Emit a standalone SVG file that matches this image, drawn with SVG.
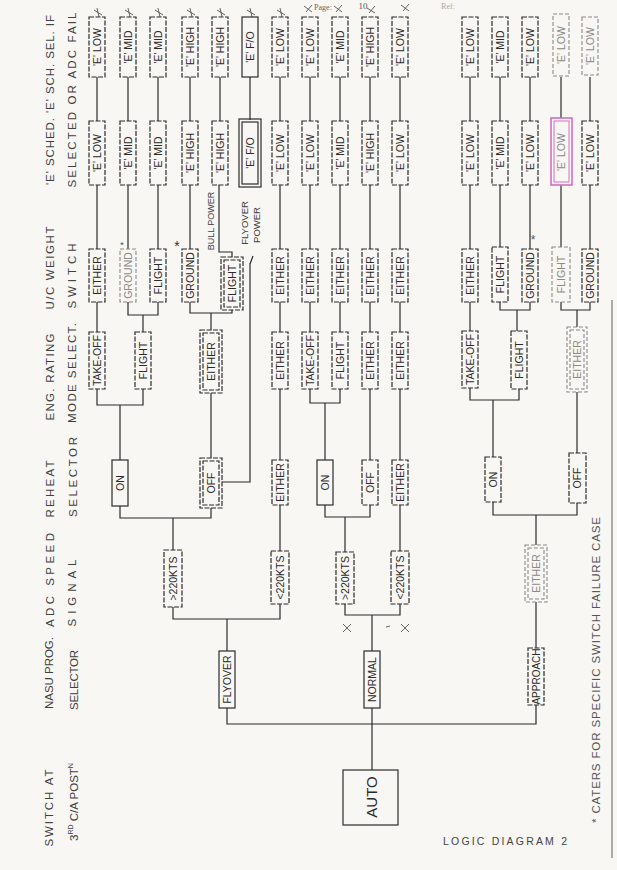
<svg xmlns="http://www.w3.org/2000/svg" width="617" height="870" viewBox="0 0 617 870">
<style>
.bg{fill:#f8f7f3}
.bx{fill:none;stroke:#2b2b2b;stroke-width:1.2;stroke-dasharray:5 1.5}
.sol{fill:none;stroke:#2b2b2b;stroke-width:1.2}
.fb{fill:none;stroke:#8a8a8a;stroke-width:1.1;stroke-dasharray:4 2}
.pk{fill:none;stroke:#d070c0;stroke-width:1.6}
.lb{font-family:"Liberation Sans",Arial,sans-serif;font-size:10.5px;fill:#2b2b2b;text-anchor:middle;dominant-baseline:central}
.lf{font-family:"Liberation Sans",Arial,sans-serif;font-size:10.5px;fill:#8a8a8a;text-anchor:middle;dominant-baseline:central}
.hd{font-family:"Liberation Sans",Arial,sans-serif;font-size:11.5px;fill:#404040;text-anchor:middle;dominant-baseline:central}
.cn{fill:none;stroke:#2b2b2b;stroke-width:1.2}
.xm{fill:none;stroke:#555;stroke-width:0.9}
</style>
<rect class="bg" x="0" y="0" width="617" height="870"/>

<!-- headers -->
<g id="headers">
<text class="hd" transform="translate(50,100) rotate(-90)" textLength="170" lengthAdjust="spacing">'E' SCHED. 'E' SCH. SEL. IF</text>
<text class="hd" transform="translate(72,100) rotate(-90)" textLength="175" lengthAdjust="spacing">SELECTED  OR  ADC  FAIL</text>
<text class="hd" transform="translate(50,268) rotate(-90)" textLength="83" lengthAdjust="spacing">U/C  WEIGHT</text>
<text class="hd" transform="translate(72,276) rotate(-90)" textLength="65" lengthAdjust="spacing">SWITCH</text>
<text class="hd" transform="translate(50,377) rotate(-90)" textLength="87" lengthAdjust="spacing">ENG.  RATING</text>
<text class="hd" transform="translate(72,373) rotate(-90)" textLength="100" lengthAdjust="spacing">MODE  SELECT.</text>
<text class="hd" transform="translate(50,489) rotate(-90)" textLength="57" lengthAdjust="spacing">REHEAT</text>
<text class="hd" transform="translate(73,477) rotate(-90)" textLength="80" lengthAdjust="spacing">SELECTOR</text>
<text class="hd" transform="translate(50,580) rotate(-90)" textLength="94" lengthAdjust="spacing">ADC  SPEED</text>
<text class="hd" transform="translate(72,593) rotate(-90)" textLength="67" lengthAdjust="spacing">SIGNAL</text>
<text class="hd" transform="translate(49,673) rotate(-90)" textLength="72" lengthAdjust="spacing">NASU  PROG.</text>
<text class="hd" transform="translate(74,680) rotate(-90)" textLength="60" lengthAdjust="spacing">SELECTOR</text>
<text class="hd" transform="translate(49,808) rotate(-90)" textLength="77" lengthAdjust="spacing">SWITCH  AT</text>
<text class="hd" transform="translate(74,802) rotate(-90)">3<tspan style="font-size:7px" baseline-shift="super">RD</tspan> C/A POST<tspan style="font-size:7px" baseline-shift="super">N</tspan></text>
<text class="hd" transform="translate(596,670) rotate(-90)" textLength="306" lengthAdjust="spacing" style="fill:#555">* CATERS  FOR  SPECIFIC  SWITCH  FAILURE  CASE</text>
<text class="hd" x="505" y="841" textLength="124" lengthAdjust="spacing" style="font-size:10.5px;fill:#444">LOGIC  DIAGRAM  2</text>
<text x="323" y="7" font-family="Liberation Serif,serif" font-size="8" fill="#666" text-anchor="middle" dominant-baseline="central">Page:</text>
<text x="363" y="6" font-family="Liberation Serif,serif" font-size="9" fill="#555" text-anchor="middle" dominant-baseline="central">10</text>
<text x="448" y="6" font-family="Liberation Serif,serif" font-size="8" fill="#aaa" text-anchor="middle" dominant-baseline="central">Ref:</text>
</g>

<!-- connectors -->
<g id="connectors">
<path class="cn" d="M97 77V121M97 185V249M97 302V332M97 389V405H143V389M120 405V460M120 506V518H211V508M173 518V550"/>
<path class="cn" d="M128 77V121M128 185V249M128 302V315H158V302M143 315V332"/>
<path class="cn" d="M158 77V121M158 185V249"/>
<path class="cn" d="M190 77V121M190 185V249M190 302V313H232V310M211 313V330M211 393V458"/>
<path class="cn" d="M220 77V121M219 185V252H232V257"/>
<path class="cn" d="M250 77V120M250 263V482H222M253 256L250 264"/>
<path class="cn" d="M280 77V121M280 185V249M280 302V332M280 389V460M280 505V551M280 604V619H173V607M227 619V651M227 708V724H536V705"/>
<path class="cn" d="M310 77V121M310 185V249M310 302V332M310 389V403H340V389M325 403V460"/>
<path class="cn" d="M340 77V121M340 185V249M340 302V332"/>
<path class="cn" d="M370 77V121M370 185V249M370 302V332M370 389V460M370 505V517H325V505M345 517V552M345 604V615H400V604M372 615V651M372 708V770"/>
<path class="cn" d="M400 77V121M400 185V249M400 302V332M400 389V460M400 505V551"/>
<path class="cn" d="M470 77V121M470 185V249M470 302V331M470 388V400H519V389M493 400V457M493 502V515H577V503M536 515V545M536 602V648"/>
<path class="cn" d="M500 77V121M500 185V247M500 302V310H530V302M517 310V331"/>
<path class="cn" d="M530 77V121M530 185V249"/>
<path class="cn" d="M561 77V118M561 185V247M561 302V310H590V302M577 310V327M577 392V453"/>
<path class="cn" d="M590 77V121M590 185V249"/>
<path d="M612 300V858" stroke="#777" stroke-width="1.2" fill="none"/>
</g>

<!-- marks -->
<g id="marks">
<path class="xm" d="M94 10L102 15M97 8L99 17M125 10L133 15M128 8L130 17M155 10L163 15M158 8L160 17M187 10L195 15M190 8L192 17M217 10L225 15M220 8L222 17M247 10L255 15M250 8L252 17M277 10L285 15M280 8L282 17M304 6L312 12M306 12L312 5M334 6L342 12M336 12L342 5M367 8L375 13M369 13L375 6M401 5L409 11M403 11L409 4M343 624L351 632M343 632L351 624M401 624L409 632M401 632L409 624M386 627L390 626"/>
<text x="122" y="245" font-family="Liberation Sans,sans-serif" font-size="9" fill="#444" text-anchor="middle" dominant-baseline="central">*</text>
<text x="177" y="246" font-family="Liberation Sans,sans-serif" font-size="14" fill="#333" text-anchor="middle" dominant-baseline="central">*</text>
<text x="533" y="240" font-family="Liberation Sans,sans-serif" font-size="12" fill="#555" text-anchor="middle" dominant-baseline="central">*</text>
<text class="hd" transform="translate(211,221) rotate(-90)" style="font-size:9px">BULL POWER</text>
<text class="hd" transform="translate(244,223) rotate(-90)" style="font-size:9.5px">FLYOVER</text>
<text class="hd" transform="translate(256,225) rotate(-90)" style="font-size:9.5px">POWER</text>
</g>

<!-- column A -->
<g id="a1"><rect class="bx" x="89" y="17" width="16" height="60"/><text class="lb" transform="translate(97,47) rotate(-90)">'E' LOW</text></g>
<g id="a2"><rect class="bx" x="120" y="17" width="16" height="60"/><text class="lb" transform="translate(128,47) rotate(-90)">'E' MID</text></g>
<g id="a3"><rect class="bx" x="150" y="17" width="16" height="60"/><text class="lb" transform="translate(158,47) rotate(-90)">'E' MID</text></g>
<g id="a4"><rect class="bx" x="182" y="17" width="16" height="60"/><text class="lb" transform="translate(190,47) rotate(-90)">'E' HIGH</text></g>
<g id="a5"><rect class="bx" x="212" y="17" width="16" height="60"/><text class="lb" transform="translate(220,47) rotate(-90)">'E' HIGH</text></g>
<g id="a6"><rect class="sol" x="242" y="17" width="16" height="60"/><text class="lb" transform="translate(250,47) rotate(-90)">'E' F/O</text></g>
<g id="a7"><rect class="bx" x="272" y="17" width="16" height="60"/><text class="lb" transform="translate(280,47) rotate(-90)">'E' LOW</text></g>
<g id="a8"><rect class="bx" x="302" y="17" width="16" height="60"/><text class="lb" transform="translate(310,47) rotate(-90)">'E' LOW</text></g>
<g id="a9"><rect class="bx" x="332" y="17" width="16" height="60"/><text class="lb" transform="translate(340,47) rotate(-90)">'E' MID</text></g>
<g id="a10"><rect class="bx" x="362" y="17" width="16" height="60"/><text class="lb" transform="translate(370,47) rotate(-90)">'E' HIGH</text></g>
<g id="a11"><rect class="bx" x="392" y="17" width="16" height="60"/><text class="lb" transform="translate(400,47) rotate(-90)">'E' LOW</text></g>
<g id="a12"><rect class="bx" x="462" y="17" width="16" height="60"/><text class="lb" transform="translate(470,47) rotate(-90)">'E' LOW</text></g>
<g id="a13"><rect class="bx" x="492" y="17" width="16" height="60"/><text class="lb" transform="translate(500,47) rotate(-90)">'E' MID</text></g>
<g id="a14"><rect class="bx" x="522" y="17" width="16" height="60"/><text class="lb" transform="translate(530,47) rotate(-90)">'E' LOW</text></g>
<g id="a15"><rect class="fb" x="553" y="14" width="16" height="62"/><text class="lf" transform="translate(561,45) rotate(-90)">'E' LOW</text></g>
<g id="a16"><rect class="fb" x="582" y="17" width="16" height="58"/><text class="lf" transform="translate(590,46) rotate(-90)">'E' LOW</text></g>

<!-- column B -->
<g id="b1"><rect class="bx" x="89" y="121" width="16" height="64"/><text class="lb" transform="translate(97,153) rotate(-90)">'E' LOW</text></g>
<g id="b2"><rect class="bx" x="120" y="121" width="16" height="64"/><text class="lb" transform="translate(128,153) rotate(-90)">'E' MID</text></g>
<g id="b3"><rect class="bx" x="150" y="121" width="16" height="64"/><text class="lb" transform="translate(158,153) rotate(-90)">'E' MID</text></g>
<g id="b4"><rect class="bx" x="182" y="121" width="16" height="64"/><text class="lb" transform="translate(190,153) rotate(-90)">'E' HIGH</text></g>
<g id="b5"><rect class="bx" x="212" y="121" width="16" height="64"/><text class="lb" transform="translate(220,153) rotate(-90)">'E' HIGH</text></g>
<g id="b6"><rect class="sol" x="239" y="119" width="22" height="68"/><rect class="sol" x="242" y="122" width="16" height="62"/><text class="lb" transform="translate(250,153) rotate(-90)">'E' F/O</text></g>
<g id="b7"><rect class="bx" x="272" y="121" width="16" height="64"/><text class="lb" transform="translate(280,153) rotate(-90)">'E' LOW</text></g>
<g id="b8"><rect class="bx" x="302" y="121" width="16" height="64"/><text class="lb" transform="translate(310,153) rotate(-90)">'E' LOW</text></g>
<g id="b9"><rect class="bx" x="332" y="121" width="16" height="64"/><text class="lb" transform="translate(340,153) rotate(-90)">'E' MID</text></g>
<g id="b10"><rect class="bx" x="362" y="121" width="16" height="64"/><text class="lb" transform="translate(370,153) rotate(-90)">'E' HIGH</text></g>
<g id="b11"><rect class="bx" x="392" y="121" width="16" height="64"/><text class="lb" transform="translate(400,153) rotate(-90)">'E' LOW</text></g>
<g id="b12"><rect class="bx" x="462" y="121" width="16" height="64"/><text class="lb" transform="translate(470,153) rotate(-90)">'E' LOW</text></g>
<g id="b13"><rect class="bx" x="492" y="121" width="16" height="64"/><text class="lb" transform="translate(500,153) rotate(-90)">'E' MID</text></g>
<g id="b14"><rect class="bx" x="522" y="121" width="16" height="64"/><text class="lb" transform="translate(530,153) rotate(-90)">'E' LOW</text></g>
<g id="b15"><rect class="pk" x="551" y="118" width="21" height="67"/><rect class="pk" x="554" y="121" width="15" height="61" style="stroke-width:1"/><text class="lf" transform="translate(561,152) rotate(-90)">'E' LOW</text></g>
<g id="b16"><rect class="bx" x="582" y="121" width="16" height="64"/><text class="lb" transform="translate(590,153) rotate(-90)">'E' LOW</text></g>

<!-- column C -->
<g id="c1"><rect class="bx" x="89" y="249" width="16" height="53"/><text class="lb" transform="translate(97,275.5) rotate(-90)">EITHER</text></g>
<g id="c2"><rect class="fb" x="120" y="249" width="16" height="53"/><text class="lf" transform="translate(128,275.5) rotate(-90)">GROUND</text></g>
<g id="c3"><rect class="bx" x="150" y="249" width="16" height="53"/><text class="lb" transform="translate(158,275.5) rotate(-90)">FLIGHT</text></g>
<g id="c4"><rect class="bx" x="182" y="249" width="16" height="53"/><text class="lb" transform="translate(190,275.5) rotate(-90)">GROUND</text></g>
<g id="c5"><rect class="bx" x="221" y="257" width="22" height="53"/><rect class="bx" x="224" y="260" width="16" height="47"/><text class="lb" transform="translate(232,283.5) rotate(-90)">FLIGHT</text></g>
<g id="c7"><rect class="bx" x="272" y="249" width="16" height="53"/><text class="lb" transform="translate(280,275.5) rotate(-90)">EITHER</text></g>
<g id="c8"><rect class="bx" x="302" y="249" width="16" height="53"/><text class="lb" transform="translate(310,275.5) rotate(-90)">EITHER</text></g>
<g id="c9"><rect class="bx" x="332" y="249" width="16" height="53"/><text class="lb" transform="translate(340,275.5) rotate(-90)">EITHER</text></g>
<g id="c10"><rect class="bx" x="362" y="249" width="16" height="53"/><text class="lb" transform="translate(370,275.5) rotate(-90)">EITHER</text></g>
<g id="c11"><rect class="bx" x="392" y="249" width="16" height="53"/><text class="lb" transform="translate(400,275.5) rotate(-90)">EITHER</text></g>
<g id="c12"><rect class="bx" x="462" y="249" width="16" height="53"/><text class="lb" transform="translate(470,275.5) rotate(-90)">EITHER</text></g>
<g id="c13"><rect class="bx" x="492" y="247" width="16" height="55"/><text class="lb" transform="translate(500,274.5) rotate(-90)">FLIGHT</text></g>
<g id="c14"><rect class="bx" x="522" y="249" width="16" height="53"/><text class="lb" transform="translate(530,275.5) rotate(-90)">GROUND</text></g>
<g id="c15"><rect class="fb" x="552" y="247" width="18" height="55"/><text class="lf" transform="translate(561,274.5) rotate(-90)">FLIGHT</text></g>
<g id="c16"><rect class="bx" x="582" y="249" width="16" height="53"/><text class="lb" transform="translate(590,275.5) rotate(-90)">GROUND</text></g>

<!-- column D -->
<g id="d1"><rect class="bx" x="89" y="332" width="16" height="57"/><text class="lb" transform="translate(97,360.5) rotate(-90)">TAKE-OFF</text></g>
<g id="d2"><rect class="bx" x="135" y="332" width="16" height="57"/><text class="lb" transform="translate(143,360.5) rotate(-90)">FLIGHT</text></g>
<g id="d3"><rect class="bx" x="200" y="330" width="22" height="63"/><rect class="bx" x="203" y="333" width="16" height="57"/><text class="lb" transform="translate(211,361.5) rotate(-90)">EITHER</text></g>
<g id="d7"><rect class="bx" x="272" y="332" width="16" height="57"/><text class="lb" transform="translate(280,360.5) rotate(-90)">EITHER</text></g>
<g id="d8"><rect class="bx" x="302" y="332" width="16" height="57"/><text class="lb" transform="translate(310,360.5) rotate(-90)">TAKE-OFF</text></g>
<g id="d9"><rect class="bx" x="332" y="332" width="16" height="57"/><text class="lb" transform="translate(340,360.5) rotate(-90)">FLIGHT</text></g>
<g id="d10"><rect class="bx" x="362" y="332" width="16" height="57"/><text class="lb" transform="translate(370,360.5) rotate(-90)">EITHER</text></g>
<g id="d11"><rect class="bx" x="392" y="332" width="16" height="57"/><text class="lb" transform="translate(400,360.5) rotate(-90)">EITHER</text></g>
<g id="d12"><rect class="bx" x="462" y="331" width="16" height="57"/><text class="lb" transform="translate(470,359.5) rotate(-90)">TAKE-OFF</text></g>
<g id="d13"><rect class="bx" x="511" y="331" width="16" height="58"/><text class="lb" transform="translate(519,360) rotate(-90)">FLIGHT</text></g>
<g id="d15"><rect class="fb" x="567" y="327" width="20" height="65"/><rect class="fb" x="570" y="330" width="14" height="59"/><text class="lf" transform="translate(577,359.5) rotate(-90)">EITHER</text></g>

<!-- column E -->
<g id="e1"><rect class="sol" x="112" y="460" width="16" height="46"/><text class="lb" transform="translate(120,483) rotate(-90)">ON</text></g>
<g id="e2"><rect class="bx" x="200" y="458" width="22" height="50"/><rect class="bx" x="203" y="461" width="16" height="44"/><text class="lb" transform="translate(211,483) rotate(-90)">OFF</text></g>
<g id="e7"><rect class="bx" x="272" y="460" width="16" height="45"/><text class="lb" transform="translate(280,482.5) rotate(-90)">EITHER</text></g>
<g id="e8"><rect class="sol" x="317" y="460" width="16" height="45"/><text class="lb" transform="translate(325,482.5) rotate(-90)">ON</text></g>
<g id="e10"><rect class="bx" x="362" y="460" width="16" height="45"/><text class="lb" transform="translate(370,482.5) rotate(-90)">OFF</text></g>
<g id="e11"><rect class="bx" x="392" y="460" width="16" height="45"/><text class="lb" transform="translate(400,482.5) rotate(-90)">EITHER</text></g>
<g id="e12"><rect class="bx" x="485" y="457" width="16" height="45"/><text class="lb" transform="translate(493,479.5) rotate(-90)">ON</text></g>
<g id="e15"><rect class="bx" x="569" y="453" width="17" height="50"/><text class="lb" transform="translate(577,478) rotate(-90)">OFF</text></g>

<!-- column F -->
<g id="f1"><rect class="bx" x="164" y="550" width="18" height="57"/><text class="lb" transform="translate(173,578.5) rotate(-90)">&gt;220KTS</text></g>
<g id="f7"><rect class="bx" x="271" y="551" width="18" height="53"/><text class="lb" transform="translate(280,577.5) rotate(-90)">&lt;220KTS</text></g>
<g id="f8"><rect class="bx" x="336" y="552" width="18" height="52"/><text class="lb" transform="translate(345,578) rotate(-90)">&gt;220KTS</text></g>
<g id="f11"><rect class="bx" x="391" y="551" width="18" height="53"/><text class="lb" transform="translate(400,577.5) rotate(-90)">&lt;220KTS</text></g>
<g id="f12"><rect class="fb" x="525" y="545" width="22" height="57"/><rect class="fb" x="528" y="548" width="16" height="51"/><text class="lf" transform="translate(536,573.5) rotate(-90)">EITHER</text></g>

<!-- column G -->
<g id="g1"><rect class="sol" x="219" y="651" width="16" height="57"/><text class="lb" transform="translate(227,679.5) rotate(-90)">FLYOVER</text></g>
<g id="g2"><rect class="sol" x="364" y="651" width="16" height="57"/><text class="lb" transform="translate(372,679.5) rotate(-90)">NORMAL</text></g>
<g id="g3"><rect class="bx" x="528" y="648" width="16" height="57"/><text class="lb" style="font-size:10px" transform="translate(536,676.5) rotate(-90)">APPROACH</text></g>

<g id="auto"><rect class="sol" x="343" y="770" width="55" height="55"/><text class="lb" style="font-size:15px" transform="translate(371,797) rotate(-90)">AUTO</text></g>
</svg>
